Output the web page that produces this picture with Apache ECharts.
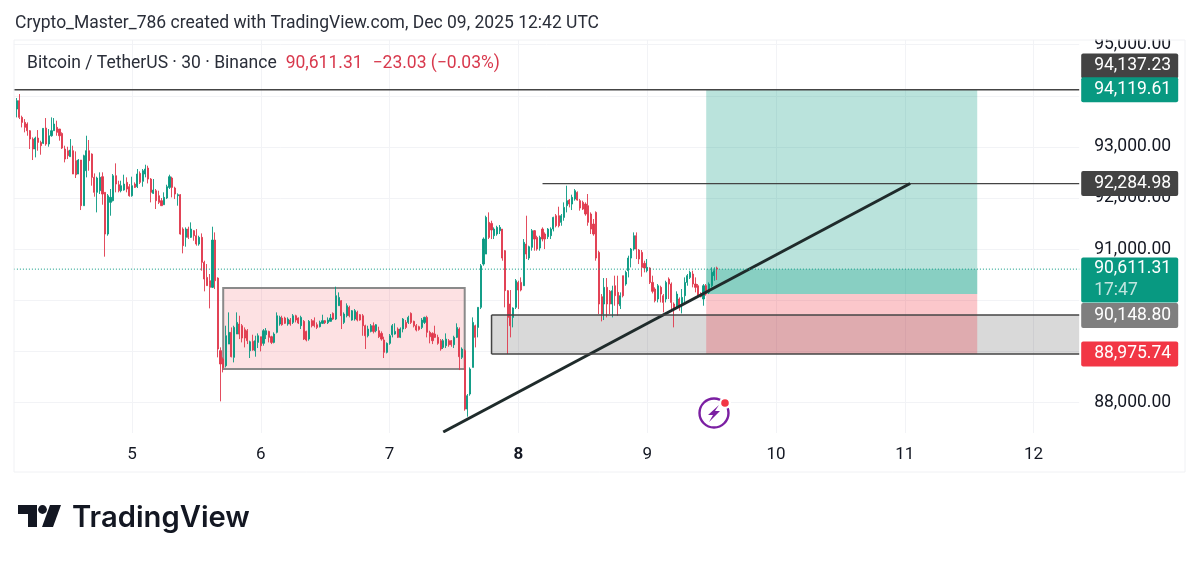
<!DOCTYPE html>
<html>
<head>
<meta charset="utf-8">
<script src="https://cdn.jsdelivr.net/npm/echarts@6/dist/echarts.min.js"></script>
<style>html,body{margin:0;background:#fff}#chart{width:1200px;height:561px}</style>
</head>
<body>
<div id="chart"></div>
<script>
// candles, 30 min bars, first slot on the axis stays empty
var opens = [
93742,93905,93579,93481,93449,93318,93155,92960,93175,93090,93071,93370,93058,93220,93318,93384,93351,93266,92960,92927,92810,92927,92732,92471,
92745,91852,92536,92927,92862,92406,92113,92146,92419,92113,91298,91917,91950,92438,92262,92145,92158,92308,92223,92047,92275,92223,92484,92328,
92471,92588,92373,92093,92145,92047,91950,91871,92002,92210,92393,92197,92047,92067,91395,91233,91395,91233,91363,91265,91102,91233,90744,90450,
90385,90255,91180,90437,89017,88853,88723,89146,89375,88886,89342,89538,89505,89427,89407,89016,89199,89016,89179,89290,89160,89329,89394,89290,
89179,89375,89538,89655,89655,89538,89616,89570,89700,89655,89505,89590,89394,89244,89603,89603,89525,89485,89551,89603,89564,89590,89746,89635,
89896,89994,89570,89700,89864,89616,89635,89766,89720,89700,89505,89309,89394,89505,89407,89407,89355,89225,88984,89160,89329,89342,89440,89277,
89440,89570,89570,89746,89590,89505,89485,89472,89570,89668,89375,89355,89342,89277,89212,89081,89114,89212,89212,89133,89277,89440,88886,89016,
87875,88169,88690,89505,89472,89864,90711,90906,91526,91506,91265,91298,91363,91395,90972,90190,89929,89668,89864,90352,90352,90287,91102,90828,
91037,91363,91232,91024,91395,91298,91245,91265,91395,91656,91656,91526,91623,91852,91962,91884,91982,92112,91950,91917,91884,91852,91689,91493,
91721,90939,90072,89929,90255,90177,89929,90287,90157,89896,90483,90320,90581,90828,91004,91265,90985,90939,90724,90581,90633,90352,90222,90027,
90255,90092,90027,90418,90320,89929,89864,90027,89896,90092,90352,90450,90516,90320,90287,90137,90027,90287,90157,90287,90483,90634
];
var closes = [
93905,93579,93481,93384,93318,93155,92960,93175,93090,93025,93364,93058,93220,93318,93449,93286,93220,92979,92764,92830,92940,92471,92458,92745,
91852,92830,92927,92732,92406,92113,92393,92406,92080,91298,92047,92015,92438,92275,92145,92243,92275,92178,92047,92243,92210,92471,92308,92536,
92569,92373,92113,92158,91950,91917,91852,92015,92223,92419,92210,92080,92067,91298,91070,91395,91233,91395,91265,91102,91233,90744,90418,90288,
90255,91180,90385,89049,88756,88690,89309,89375,88899,89472,89570,89342,89264,89264,89212,89192,89029,89212,89309,89114,89407,89407,89277,89179,
89342,89700,89668,89525,89551,89635,89538,89700,89616,89557,89668,89244,89225,89590,89505,89505,89472,89570,89603,89564,89616,89655,89635,90092,
90059,89700,89733,89896,89700,89798,89798,89616,89616,89505,89309,89440,89505,89394,89525,89290,89244,88984,89160,89309,89505,89394,89277,89440,
89635,89472,89668,89570,89505,89420,89433,89616,89668,89375,89290,89212,89277,89160,89049,89212,89244,89133,89133,89277,89472,88899,89049,87875,
88136,88658,89570,89277,89864,90678,91200,91624,91232,91376,91395,91428,91428,90828,90190,89668,89505,89851,90385,90203,90203,91135,90906,91050,
91363,91200,91004,91232,91200,91200,91395,91395,91623,91460,91460,91656,91819,91950,91884,92015,92145,91962,91806,91786,91689,91526,91395,91298,
90828,89929,89733,90255,89929,89929,90190,90092,89929,90092,90092,90548,90828,91004,91265,91004,90809,90646,90633,90646,90352,90177,89994,90287,
90124,89961,90352,90320,89961,89831,90124,89896,90059,90352,90483,90548,90320,90255,90092,90072,90287,90124,90320,90548,90581,90611
];
var lows = [
93579,93546,93383,93286,93220,92960,92745,92797,92927,92849,93058,93025,93005,93201,93318,93220,93123,92960,92699,92764,92810,92471,92393,92471,
91767,91852,92406,92536,92243,92028,91721,92080,91871,90855,91265,91656,91936,92113,92113,92113,92145,92113,92028,92028,92197,92197,92275,92223,
92406,92288,91917,92080,91787,91884,91852,91871,91982,92178,92015,91982,91852,91285,90920,91050,91200,91220,91167,91070,91070,90581,90177,90288,
89844,90242,90222,88886,88026,88592,88690,89146,88886,88788,89342,89244,89179,89081,89146,88873,89016,88899,89068,89003,89114,89244,89179,89146,
89160,89355,89505,89505,89538,89505,89505,89538,89570,89538,89440,89225,89199,89212,89472,89472,89440,89472,89538,89538,89538,89590,89616,89616,
89896,89440,89538,89668,89668,89603,89603,89590,89603,89309,89049,89277,89375,89355,89375,89264,89212,88873,88964,89133,89277,89329,89264,89264,
89375,89440,89538,89538,89472,89394,89407,89440,89538,89277,89160,89146,89264,89133,89016,89049,89068,89094,89094,89068,89264,88638,88853,87843,
87726,88136,88690,89081,89277,89831,90678,90906,91200,91200,91200,91265,91298,90776,89864,88951,89277,89473,89831,89831,90177,90287,90809,90789,
90972,90972,90972,90972,91154,91004,91200,91200,91350,91428,91428,91460,91558,91721,91819,91767,91950,91950,91754,91767,91656,91460,91298,91265,
90776,89733,89590,89616,89668,89733,89668,89896,89701,89831,90059,90287,90450,90646,90972,90809,90711,90463,90548,90548,90320,90137,89961,89961,
89961,89766,89961,90027,89798,89473,89831,89798,89746,89961,90287,90418,90255,90157,90059,90059,89896,90092,90124,90255,90385,90400
];
var highs = [
93957,94035,93612,93546,93481,93331,93188,93201,93331,93123,93370,93566,93351,93579,93566,93514,93351,93286,93025,93005,93155,93025,92914,92764,
92745,92849,93220,93136,92875,92484,92419,92504,92504,92113,92080,92178,92471,92680,92340,92340,92458,92406,92275,92419,92308,92569,92523,92569,
92653,92634,92393,92373,92178,92145,92002,92113,92262,92458,92419,92223,92093,92080,91428,91428,91441,91526,91376,91395,91265,91310,90776,90711,
90516,91441,91330,90450,89082,88886,89505,89766,89472,89505,89766,89700,89538,89472,89440,89212,89329,89309,89355,89290,89440,89459,89407,89309,
89375,89766,89700,89700,89681,89668,89655,89733,89720,89668,89700,89616,89407,89616,89635,89668,89570,89603,89720,89616,89668,89733,89766,90268,
90157,90007,89766,89942,89896,89811,89831,89798,89733,89733,89525,89505,89538,89570,89538,89485,89394,89290,89179,89342,89538,89551,89472,89472,
89655,89616,89700,89766,89603,89538,89505,89655,89681,89700,89407,89375,89505,89329,89244,89244,89355,89244,89225,89309,89551,89472,89081,89049,
88169,88690,89668,89525,89864,90711,91232,91656,91721,91558,91428,91460,91474,91395,90985,90203,90203,89864,90418,90385,90450,91200,91656,91070,
91395,91376,91265,91265,91428,91330,91415,91428,91636,91689,91832,91689,91917,92243,91982,92067,92177,92132,91982,91950,91917,92080,91721,91591,
91741,90972,90124,90437,90437,90203,90287,90483,90483,90157,90483,90581,90874,91024,91330,91330,91004,90985,90776,90809,90646,90483,90255,90320,
90287,90124,90385,90450,90352,89961,90177,90059,90222,90450,90516,90581,90581,90450,90320,90157,90320,90320,90352,90646,90646,90660
];

var slotCount = 398;
var dayTicks = [44, 92, 140, 188, 236, 284, 332, 380];
var dayLabels = ['5', '6', '7', '8', '9', '10', '11', '12'];
var priceTicks = [88000, 89000, 90000, 91000, 92000, 93000, 94000, 95000];
var priceLabels = [88000, 91000, 92000, 93000, 95000];

// drawn boxes: pink range, grey zone, long target, open profit, long stop
var zoneStart = [78, 178, 258, 258, 258];
var zoneEnd = [168, 397, 359, 359, 359];
var zoneTop = [90243, 89715, 94119.61, 90611.31, 90125];
var zoneBottom = [88659, 88952, 90125, 90125, 88952];

// drawn lines: top level, swing high, trend line, grey zone edges
var lineStart = [0, 197, 160, 178, 178, 178];
var lineEnd = [397, 397, 334, 397, 397, 178];
var lineFrom = [94119.61, 92284.98, 87427, 89715, 88952, 89715];
var lineTo = [94119.61, 92284.98, 92284.98, 89715, 88952, 88952];
var lastPrice = 90611.31;

// tags on the price scale, tagAnchors is where the tag sits once TradingView pushed it apart
var tagText = ['94,137.23', '94,119.61', '92,284.98', '90,611.31', '90,148.80', '88,975.74'];
var tagAnchors = [94584, 94119.61, 92284.98, 90399, 89705, 88952];
var tagSub = ['', '', '', '17:47', '', ''];

var slots = [];
for (var s = 0; s < slotCount; s++) slots.push(String(s));
var candles = [['-', '-', '-', '-']];
for (var c = 0; c < opens.length; c++) candles.push([opens[c], closes[c], lows[c], highs[c]]);

var zoneFill = ['rgba(242,54,69,0.15)', 'rgba(0,0,0,0.15)', 'rgba(8,153,129,0.28)', 'rgba(8,153,129,0.28)', 'rgba(242,54,69,0.28)'];
var zoneEdge = ['#8a8a8a', null, null, null, null];
var zoneEdgeWidth = [2, 0, 0, 0, 0];
var lineColor = ['#444', '#444', '#1f2b2b', '#444', '#444', '#444'];
var lineWidth = [1.3, 1.3, 3, 1.5, 1.5, 1.5];
var tagColor = ['#434343', '#089981', '#434343', '#089981', '#7f7f7f', '#f23645'];

var ink = '#131722';
var labelFont = 'Roboto, sans-serif';

var chart = echarts.init(document.getElementById('chart'), null, { renderer: 'canvas' });
chart.setOption({
  animation: false,
  backgroundColor: '#fff',
  title: [
    {
      text: 'Crypto_Master_786 created with TradingView.com, Dec 09, 2025 12:42 UTC',
      left: 10, top: 10,
      textStyle: { fontFamily: labelFont, fontSize: 17.5, fontWeight: 400, color: '#2a2e39' }
    },
    {
      text: '{a|Bitcoin / TetherUS · 30 · Binance}{b|90,611.31}{c|−23.03 (−0.03%)}',
      left: 22, top: 50,
      textStyle: {
        fontWeight: 400,
        rich: {
          a: { fontFamily: labelFont, fontSize: 17.5, fontWeight: 400, color: '#2a2e39' },
          b: { fontFamily: labelFont, fontSize: 17.5, fontWeight: 400, color: '#d8394d', padding: [0, 0, 0, 9] },
          c: { fontFamily: labelFont, fontSize: 17.5, fontWeight: 400, color: '#d8394d', padding: [0, 0, 0, 10] }
        }
      }
    }
  ],
  grid: { left: 13.9, top: 40, width: 1065.3, height: 393, containLabel: false },
  xAxis: {
    type: 'category',
    data: slots,
    boundaryGap: false,
    axisLine: { show: false },
    axisTick: { show: false, customValues: dayTicks },
    splitLine: { show: true, lineStyle: { color: '#f2f3f6', width: 1 } },
    axisLabel: {
      customValues: dayTicks,
      margin: 13,
      fontFamily: labelFont,
      fontSize: 17,
      color: ink,
      formatter: function (v) {
        var t = dayLabels[dayTicks.indexOf(+v)];
        return t === '8' ? '{b|' + t + '}' : t;
      },
      rich: { b: { fontFamily: labelFont, fontSize: 17, fontWeight: 700, color: ink } }
    }
  },
  yAxis: {
    type: 'value',
    position: 'right',
    min: 87407,
    max: 95092,
    axisLine: { show: false },
    axisTick: { show: false, customValues: priceTicks },
    splitLine: { show: true, lineStyle: { color: '#f2f3f6', width: 1 } },
    axisLabel: {
      customValues: priceLabels,
      margin: 15,
      padding: [2, 0, 0, 0],
      fontFamily: labelFont,
      fontSize: 17.5,
      color: ink,
      formatter: function (v) {
        return Number(v).toLocaleString('en-US', { minimumFractionDigits: 2, maximumFractionDigits: 2 });
      }
    }
  },
  series: [
    {
      // boxes go under the candles
      type: 'custom',
      z: 1,
      clip: false,
      silent: true,
      data: zoneStart.map(function (v, i) { return [v, zoneEnd[i], zoneTop[i], zoneBottom[i]]; }),
      encode: { x: [0, 1], y: [2, 3] },
      renderItem: function (params, api) {
        var a = api.coord([api.value(0), api.value(2)]);
        var b = api.coord([api.value(1), api.value(3)]);
        var i = params.dataIndex;
        return {
          type: 'rect',
          shape: { x: a[0], y: a[1], width: b[0] - a[0], height: b[1] - a[1] },
          style: { fill: zoneFill[i], stroke: zoneEdge[i], lineWidth: zoneEdgeWidth[i] }
        };
      }
    },
    {
      type: 'candlestick',
      z: 2,
      data: candles,
      barWidth: 1.6,
      itemStyle: {
        color: '#089981', color0: '#e0394d',
        borderColor: '#089981', borderColor0: '#e0394d',
        borderWidth: 0.9
      }
    },
    {
      type: 'custom',
      z: 3,
      clip: true,
      silent: true,
      data: lineStart.map(function (v, i) { return [v, lineEnd[i], lineFrom[i], lineTo[i]]; }),
      encode: { x: [0, 1], y: [2, 3] },
      renderItem: function (params, api) {
        var a = api.coord([api.value(0), api.value(2)]);
        var b = api.coord([api.value(1), api.value(3)]);
        var i = params.dataIndex;
        return {
          type: 'line',
          shape: { x1: a[0], y1: a[1], x2: b[0], y2: b[1] },
          style: { stroke: lineColor[i], lineWidth: lineWidth[i] }
        };
      }
    },
    {
      // last price dotted line
      type: 'line',
      z: 3,
      symbol: 'none',
      silent: true,
      data: [[0, lastPrice], [397, lastPrice]],
      lineStyle: { color: '#089981', width: 1, type: [1, 2] }
    },
    {
      // price scale tags
      type: 'custom',
      z: 5,
      clip: false,
      silent: true,
      data: tagAnchors.map(function (v) { return [397, v]; }),
      encode: { x: 0, y: 1 },
      renderItem: function (params, api) {
        var i = params.dataIndex;
        var p = api.coord([api.value(0), api.value(1)]);
        var two = tagSub[i] !== '';
        var h = two ? 45 : 25;
        var kids = [
          { type: 'rect', shape: { x: p[0] + 2, y: p[1] - h / 2, width: 97, height: h, r: 2 }, style: { fill: tagColor[i] } },
          {
            type: 'text', x: p[0] + 15, y: two ? p[1] - 11 : p[1],
            style: { text: tagText[i], fill: '#fff', font: '17.5px Roboto, sans-serif', verticalAlign: 'middle' }
          }
        ];
        if (two) {
          kids.push({
            type: 'text', x: p[0] + 15, y: p[1] + 11,
            style: { text: tagSub[i], fill: 'rgba(255,255,255,0.75)', font: '17.5px Roboto, sans-serif', verticalAlign: 'middle' }
          });
        }
        return { type: 'group', children: kids };
      }
    }
  ],
  graphic: [
    // top of the price scale cuts the first label
    { type: 'rect', silent: true, z: 10, shape: { x: 1081, y: 28, width: 103, height: 11.5 }, style: { fill: '#fff' } },
    // outer frame, time scale rule
    { type: 'rect', silent: true, z: 10, shape: { x: 14, y: 40, width: 1171, height: 432 }, style: { fill: 'none', stroke: '#f0f1f4', lineWidth: 1 } },
    // energy icon
    { type: 'circle', silent: true, z: 10, shape: { cx: 714, cy: 413, r: 14.5 }, style: { fill: 'none', stroke: '#7b1fa2', lineWidth: 2.4 } },
    { type: 'polygon', silent: true, z: 10, shape: { points: [[719, 405], [708, 415], [713, 415], [709, 422], [720, 411], [715, 411]] }, style: { fill: '#7b1fa2' } },
    { type: 'circle', silent: true, z: 11, shape: { cx: 725, cy: 403, r: 6 }, style: { fill: '#fff' } },
    { type: 'circle', silent: true, z: 12, shape: { cx: 725, cy: 403, r: 3.8 }, style: { fill: '#f23645' } },
    // TradingView logo
    { type: 'polygon', silent: true, z: 10, shape: { points: [[18, 505], [37, 505], [37, 527], [28, 527], [28, 514], [18, 514]] }, style: { fill: '#131722' } },
    { type: 'circle', silent: true, z: 10, shape: { cx: 42.5, cy: 509.5, r: 4.4 }, style: { fill: '#131722' } },
    { type: 'polygon', silent: true, z: 10, shape: { points: [[50, 505], [61, 505], [53, 527], [42, 527]] }, style: { fill: '#131722' } },
    { type: 'text', silent: true, z: 10, x: 72, y: 518, style: { text: 'TradingView', fill: '#131722', font: '600 29.2px Inter, sans-serif', verticalAlign: 'middle' } }
  ]
});
</script>
</body>
</html>
